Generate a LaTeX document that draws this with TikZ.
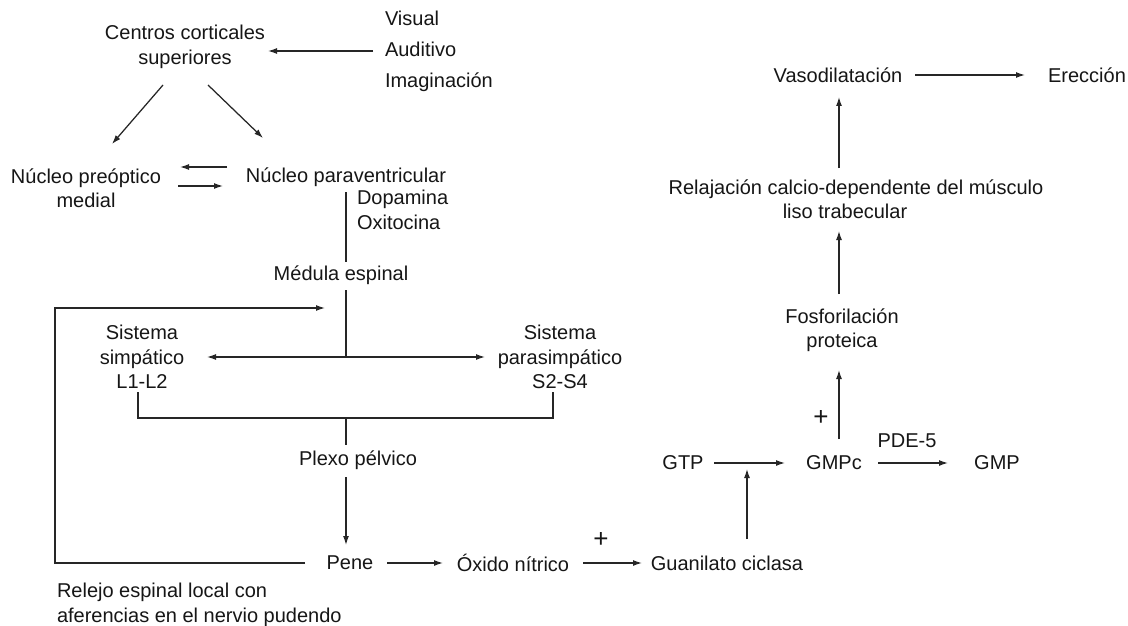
\documentclass[tikz,border=0pt]{standalone}
\usepackage{fontspec}
\setmainfont{Liberation Sans}
\usetikzlibrary{arrows.meta}
\definecolor{ink}{HTML}{161616}
\definecolor{linec}{HTML}{262626}
\begin{document}
\begin{tikzpicture}[x=1pt,y=-1pt,
  every node/.style={inner sep=0pt,outer sep=0pt,text=ink,font=\fontsize{20}{24.5}\selectfont},
  lbl/.style={align=center},
  lblL/.style={align=left,anchor=west},
  plus/.style={font=\fontsize{26}{26}\selectfont},
  conn/.style={draw=linec,line width=1.25pt},
  arr/.style={conn,-{Latex[length=9pt,width=6pt]}},
  dbl/.style={conn,{Latex[length=9pt,width=6pt]}-{Latex[length=9pt,width=6pt]}}]
\useasboundingbox[fill=white] (0,0) rectangle (1128,626);

% nodes
\node[lbl] (centros) at (185,47) {Centros corticales\\superiores};
\node[lblL,font=\fontsize{20}{31}\selectfont] (senses) at (385,51) {Visual\\Auditivo\\Imaginación};
\node[lbl] (npo) at (86,188) {Núcleo preóptico\\medial};
\node[lbl] (npv) at (346,177) {Núcleo paraventricular};
\node[lblL] (dopa) at (357,210) {Dopamina\\Oxitocina};
\node[lbl] (medula) at (341,275) {Médula espinal};
\node[lbl] (simp) at (142,357) {Sistema\\simpático\\L1-L2};
\node[lbl] (parasimp) at (560,357) {Sistema\\parasimpático\\S2-S4};
\node[lbl] (plexo) at (358,460) {Plexo pélvico};
\node[lbl] (pene) at (350,563) {Pene};
\node[lbl] (oxido) at (513,563) {Óxido nítrico};
\node[lbl] (guan) at (727,563) {Guanilato ciclasa};
\node[lbl] (gtp) at (683,463) {GTP};
\node[lbl] (gmpc) at (834,463) {GMPc};
\node[lbl] (gmp) at (997,463) {GMP};
\node[lbl] (pde) at (907,441) {PDE-5};
\node[lbl] (fosfo) at (842,330) {Fosforilación\\proteica};
\node[lbl] (relaj) at (856,199) {Relajación calcio-dependente del músculo\\liso trabecular\hspace*{22pt}};
\node[lbl] (vaso) at (838,75) {Vasodilatación};
\node[lbl] (erec) at (1087,75) {Erección};
\node[lblL] (relejo) at (57,605) {Relejo espinal local con\\aferencias en el nervio pudendo};
\node[plus] (plus1) at (601,540) {+};
\node[plus] (plus2) at (821,418) {+};

\coordinate (j1) at (346,357);
\coordinate (j2) at (346,418);

% connectors
\draw[arr] ([shift={(-12,0)}]senses.west) -- ([shift={(83,4)}]centros.center);
\draw[arr] ([shift={(-22,38)}]centros.center) -- ([shift={(26,-44)}]npo.center);
\draw[arr] ([shift={(23,38)}]centros.center) -- ([shift={(-83,-39)}]npv.center);
\draw[arr] ([shift={(-119,-10)}]npv.center) -- ([shift={(94,-21)}]npo.center);
\draw[arr] ([shift={(92,-2)}]npo.center) -- ([shift={(-123,9)}]npv.center);
\draw[conn] ([shift={(0,15)}]npv.center) -- ([shift={(5,-13)}]medula.center);
\draw[conn] ([shift={(5,15)}]medula.center) -- (j1);
\draw[dbl] ([shift={(65,0)}]simp.center) -- ([shift={(-75,0)}]parasimp.center);
\draw[conn] ([shift={(-4,35)}]simp.center) -- ++(0,26) -| ([shift={(-7,35)}]parasimp.center);
\draw[conn] (j2) -- ([shift={(-12,-15)}]plexo.center);
\draw[arr] ([shift={(-12,17)}]plexo.center) -- ([shift={(-4,-18)}]pene.center);
\draw[arr] ([shift={(-45,0)}]pene.center) -- ++(-250,0) |- ([shift={(-16,33)}]medula.center);
\draw[arr] ([shift={(37,0)}]pene.center) -- ([shift={(-70,0)}]oxido.center);
\draw[arr] ([shift={(70,0)}]oxido.center) -- ([shift={(-85,0)}]guan.center);
\draw[arr] ([shift={(20,-24)}]guan.center) -- ([shift={(64,6)}]gtp.center);
\draw[arr] ([shift={(31,0)}]gtp.center) -- ([shift={(-49,0)}]gmpc.center);
\draw[arr] ([shift={(44,0)}]gmpc.center) -- ([shift={(-49,0)}]gmp.center);
\draw[arr] ([shift={(5,-24)}]gmpc.center) -- ([shift={(-3,40)}]fosfo.center);
\draw[arr] ([shift={(-3,-36)}]fosfo.center) -- ([shift={(-17,32)}]relaj.center);
\draw[arr] ([shift={(-17,-31)}]relaj.center) -- ([shift={(1,22)}]vaso.center);
\draw[arr] ([shift={(77,0)}]vaso.center) -- ([shift={(-62,0)}]erec.center);
\end{tikzpicture}
\end{document}
